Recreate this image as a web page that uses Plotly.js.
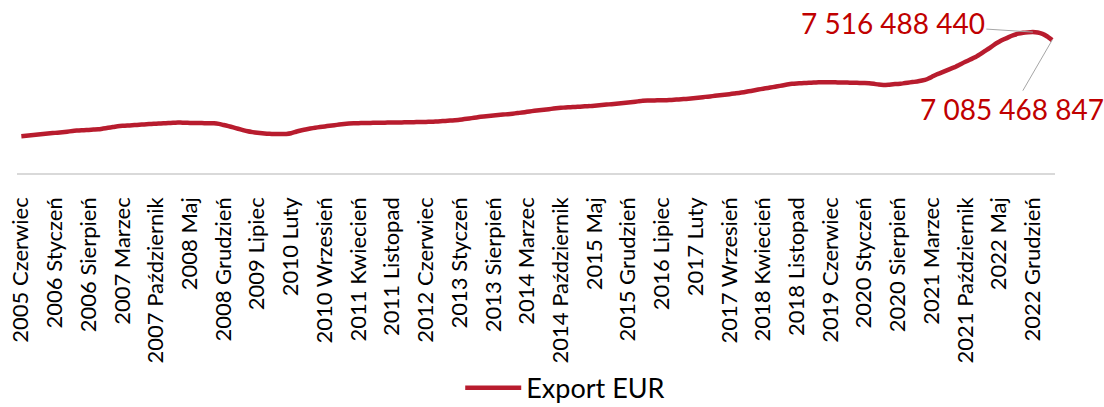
<!DOCTYPE html>
<html>
<head>
<meta charset="utf-8">
<script src="https://cdn.plot.ly/plotly-3.0.1.min.js"></script>
<style>
  html, body { margin: 0; padding: 0; background: #ffffff; }
  #chart { width: 1104px; height: 407px; }
</style>
</head>
<body>
<div id="chart"></div>
<script>
// Monthly series: Export EUR, June 2005 – April 2023 (values in million EUR)
const seriesName = 'Export EUR';
const monthNames = ['Styczeń','Luty','Marzec','Kwiecień','Maj','Czerwiec','Lipiec','Sierpień','Wrzesień','Październik','Listopad','Grudzień'];
const startYear = 2005;
const startMonthIndex = 5; // Czerwiec

const exportMlnEur = [
  1966, 1990, 2015, 2040, 2070, 2095, 2120, 2140, 2165, 2190,
  2220, 2250, 2270, 2285, 2300, 2315, 2330, 2370, 2410, 2450,
  2490, 2515, 2530, 2545, 2565, 2585, 2600, 2615, 2630, 2645,
  2660, 2672, 2685, 2688, 2682, 2672, 2664, 2662, 2660, 2656,
  2652, 2620, 2560, 2500, 2430, 2360, 2290, 2225, 2180, 2145,
  2115, 2098, 2085, 2078, 2078, 2085, 2120, 2200, 2270, 2320,
  2370, 2415, 2450, 2485, 2520, 2550, 2585, 2615, 2640, 2652,
  2660, 2665, 2670, 2675, 2680, 2685, 2688, 2692, 2696, 2700,
  2705, 2710, 2715, 2720, 2726, 2732, 2745, 2760, 2775, 2795,
  2815, 2840, 2875, 2910, 2945, 2985, 3015, 3040, 3065, 3090,
  3115, 3138, 3165, 3195, 3225, 3265, 3300, 3330, 3360, 3390,
  3420, 3452, 3478, 3495, 3510, 3525, 3540, 3555, 3567, 3588,
  3610, 3635, 3660, 3685, 3710, 3735, 3760, 3790, 3820, 3848,
  3862, 3868, 3874, 3880, 3885, 3898, 3915, 3932, 3950, 3975,
  4000, 4030, 4060, 4085, 4115, 4145, 4175, 4205, 4240, 4270,
  4310, 4355, 4400, 4450, 4495, 4535, 4580, 4625, 4670, 4715,
  4755, 4775, 4790, 4805, 4818, 4830, 4838, 4842, 4840, 4835,
  4828, 4823, 4820, 4812, 4805, 4795, 4786, 4755, 4715, 4700,
  4710, 4735, 4752, 4780, 4815, 4850, 4878, 4930, 5000, 5120,
  5250, 5350, 5460, 5570, 5670, 5800, 5930, 6050, 6170, 6330,
  6500, 6660, 6850, 7000, 7130, 7250, 7350, 7430, 7475, 7500,
  7516.48844, 7490, 7420, 7280, 7085.468847
];

const tickLabels = [
  '2005 Czerwiec','2006 Styczeń','2006 Sierpień','2007 Marzec','2007 Październik',
  '2008 Maj','2008 Grudzień','2009 Lipiec','2010 Luty','2010 Wrzesień',
  '2011 Kwiecień','2011 Listopad','2012 Czerwiec','2013 Styczeń','2013 Sierpień',
  '2014 Marzec','2014 Październik','2015 Maj','2015 Grudzień','2016 Lipiec',
  '2017 Luty','2017 Wrzesień','2018 Kwiecień','2018 Listopad','2019 Czerwiec',
  '2020 Styczeń','2020 Sierpień','2021 Marzec','2021 Październik','2022 Maj',
  '2022 Grudzień'
];

// category labels (one per month)
const categories = exportMlnEur.map((_, k) => {
  const m = startMonthIndex + k;
  return (startYear + Math.floor(m / 12)) + ' ' + monthNames[m % 12];
});

// labelled points: maximum and last value
let maxIdx = 0;
exportMlnEur.forEach((v, k) => { if (v > exportMlnEur[maxIdx]) maxIdx = k; });
const lastIdx = exportMlnEur.length - 1;

function fmtEur(mln) {
  const s = String(Math.round(mln * 1e6));
  return s.replace(/\B(?=(\d{3})+(?!\d))/g, ' ');
}

const FONT = 'Lato, "Open Sans", sans-serif';
const RED = '#B81C2E';
const LABEL_RED = '#C00000';

const trace = {
  type: 'scatter',
  mode: 'lines',
  name: seriesName,
  x: categories,
  y: exportMlnEur,
  line: { color: RED, width: 4.5, shape: 'spline', smoothing: 0.4 },
  hoverinfo: 'x+y'
};

const layout = {
  width: 1104,
  height: 407,
  margin: { l: 17, r: 49, t: 23, b: 234, autoexpand: false },
  paper_bgcolor: '#ffffff',
  plot_bgcolor: '#ffffff',
  font: { family: FONT, color: '#000000' },
  showlegend: true,
  legend: {
    orientation: 'h',
    x: 0.427, xanchor: 'left',
    y: -1.435, yanchor: 'middle',
    font: { size: 27, family: FONT, color: '#000000' },
    itemwidth: 56,
    bgcolor: 'rgba(0,0,0,0)'
  },
  xaxis: {
    type: 'category',
    range: [-0.9, 214.6],
    tickmode: 'array',
    tickvals: tickLabels,
    ticktext: tickLabels,
    tickangle: -90,
    tickfont: { size: 22, family: FONT, color: '#000000' },
    ticks: 'outside',
    ticklen: 14,
    tickcolor: 'rgba(0,0,0,0)',
    showline: true,
    linecolor: '#D9D9D9',
    linewidth: 1.5,
    showgrid: false,
    zeroline: false,
    automargin: false,
    fixedrange: true
  },
  yaxis: {
    range: [0, 8000],
    visible: false,
    showgrid: false,
    zeroline: false,
    fixedrange: true
  },
  annotations: [
    {
      x: categories[maxIdx], y: exportMlnEur[maxIdx],
      xref: 'x', yref: 'y',
      text: fmtEur(exportMlnEur[maxIdx]),
      showarrow: true, arrowhead: 0, arrowwidth: 1, arrowcolor: '#A6A6A6',
      ax: -140, ay: -9,
      font: { size: 28, family: FONT, color: LABEL_RED }
    },
    {
      x: categories[lastIdx], y: exportMlnEur[lastIdx],
      xref: 'x', yref: 'y',
      text: fmtEur(exportMlnEur[lastIdx]),
      showarrow: true, arrowhead: 0, arrowwidth: 1, arrowcolor: '#A6A6A6',
      ax: -40, ay: 69,
      font: { size: 28, family: FONT, color: LABEL_RED }
    }
  ]
};

Plotly.newPlot('chart', [trace], layout, { displayModeBar: false, staticPlot: true });
</script>
</body>
</html>
